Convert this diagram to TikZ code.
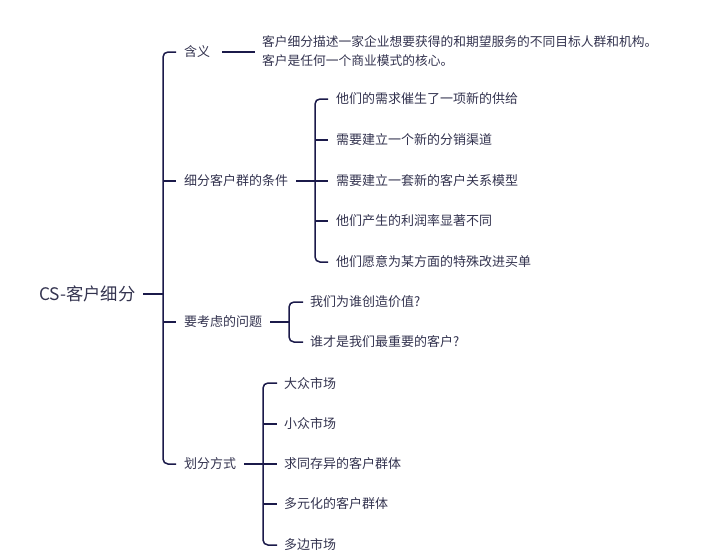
\documentclass[tikz,border=0pt]{standalone}
\usepackage{fontspec}
\setmainfont{Noto Sans CJK SC}
\definecolor{lnc}{HTML}{1B1A4A}
\definecolor{txc}{HTML}{33334F}
\begin{document}
\begin{tikzpicture}[x=1pt,y=-1pt,
  lbl/.style={anchor=west,inner sep=0pt,text=txc,font=\fontsize{13}{16}\selectfont},
  thin/.style={draw=lnc,line width=1.5pt,rounded corners=5pt},
  thick/.style={draw=lnc,line width=2.6pt}]
\useasboundingbox (0,0) rectangle (703,552);
% root
\node[anchor=west,inner sep=0pt,text=txc,font=\fontsize{17.3}{20}\selectfont] (root) at (39,294) {CS-客户细分};
\coordinate (sp) at (163,294);
\draw[thick] (143,294) -- (sp);
% spine
\coordinate (b1) at (176,52);
\coordinate (b2) at (176,181);
\coordinate (b3) at (176,322);
\coordinate (b4) at (176,464);
\draw[thin] (b1) -- (163,52) -- (163,464) -- (b4);
\draw[thin] (163,181) -- (b2);
\draw[thin] (163,322) -- (b3);
% branch labels
\node[lbl] (l1) at (184,52) {含义};
\node[lbl] (l2) at (184,181) {细分客户群的条件};
\node[lbl] (l3) at (184,322) {要考虑的问题};
\node[lbl] (l4) at (184,464) {划分方式};
% meaning
\node[lbl,align=left,font=\fontsize{12.75}{19}\selectfont] (d1) at (262,51.5) {客户细分描述一家企业想要获得的和期望服务的不同目标人群和机构。\\客户是任何一个商业模式的核心。};
\draw[draw=lnc,line width=1.5pt] (222,52) -- (255,52);
% conditions
\coordinate (v2) at (315,181);
\draw[thick] (296,181) -- (v2);
\node[lbl] (c1) at (336,99) {他们的需求催生了一项新的供给};
\node[lbl] (c2) at (336,140) {需要建立一个新的分销渠道};
\node[lbl] (c3) at (336,181) {需要建立一套新的客户关系模型};
\node[lbl] (c4) at (336,221) {他们产生的利润率显著不同};
\node[lbl] (c5) at (336,262) {他们愿意为某方面的特殊改进买单};
\draw[thin] (328,99) -- (315,99) -- (315,262) -- (328,262);
\draw[thin] (315,140) -- (328,140);
\draw[thin] (315,181) -- (328,181);
\draw[thin] (315,221) -- (328,221);
% questions
\coordinate (v3) at (289,322);
\draw[thick] (270,322) -- (v3);
\node[lbl] (q1) at (310,302) {我们为谁创造价值?};
\node[lbl] (q2) at (310,342) {谁才是我们最重要的客户?};
\draw[thin] (303,302) -- (289,302) -- (289,342) -- (303,342);
% ways
\coordinate (v4) at (263,464);
\draw[thick] (244,464) -- (v4);
\node[lbl] (w1) at (284,383) {大众市场};
\node[lbl] (w2) at (284,424) {小众市场};
\node[lbl] (w3) at (284,464) {求同存异的客户群体};
\node[lbl] (w4) at (284,504) {多元化的客户群体};
\node[lbl] (w5) at (284,545) {多边市场};
\draw[thin] (277,383) -- (263,383) -- (263,545) -- (277,545);
\draw[thin] (263,424) -- (277,424);
\draw[thin] (263,464) -- (277,464);
\draw[thin] (263,504) -- (277,504);
\end{tikzpicture}
\end{document}
